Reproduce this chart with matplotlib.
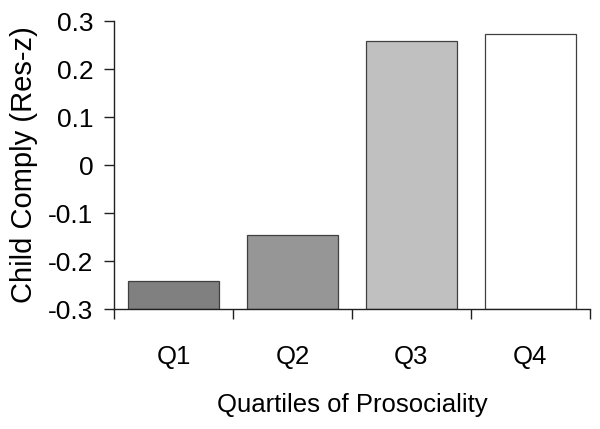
import numpy as np
import matplotlib
matplotlib.use('Agg')
import matplotlib.pyplot as plt

plt.rcParams['font.family'] = ['Liberation Sans', 'DejaVu Sans']

# 데이터
quartiles = ['Q1', 'Q2', 'Q3', 'Q4']
comply = [-0.242, -0.146, 0.259, 0.272]
bar_colors = ['#808080', '#969696', '#c0c0c0', '#ffffff']

base = -0.3

fig = plt.figure(figsize=(6.0, 4.29), dpi=100)
ax = fig.add_axes([0.19, 0.2797, 0.793, 0.6713])

x = np.arange(len(quartiles))
heights = [v - base for v in comply]
ax.bar(x, heights, bottom=base, width=0.77, color=bar_colors,
       edgecolor='#404040', linewidth=0.9, zorder=2)

ax.set_xlim(-0.5, len(quartiles) - 0.5)
ax.set_ylim(-0.3, 0.3)
ax.set_yticks(np.arange(-0.3, 0.31, 0.1))
ax.set_yticklabels(['-0.3', '-0.2', '-0.1', '0', '0.1', '0.2', '0.3'])

# 카테고리 라벨은 중앙(길이 0), 눈금은 경계에
ax.set_xticks(x)
ax.set_xticklabels(quartiles)
ax.set_xticks(np.arange(-0.5, len(quartiles), 1.0), minor=True)
ax.tick_params(axis='x', which='major', length=0, pad=26, labelsize=18.5)
ax.tick_params(axis='x', which='minor', length=7, width=1, color='#202020')
ax.tick_params(axis='y', length=7, width=1, color='#202020', pad=8, labelsize=19)

for s in ['top', 'right']:
    ax.spines[s].set_visible(False)
for s in ['left', 'bottom']:
    ax.spines[s].set_color('#202020')
    ax.spines[s].set_linewidth(1)

ax.set_xlabel('Quartiles of Prosociality', fontsize=18.5, labelpad=17)
ax.set_ylabel('Child Comply (Res-z)', fontsize=21, labelpad=7)

fig.savefig('out.png', dpi=100)
